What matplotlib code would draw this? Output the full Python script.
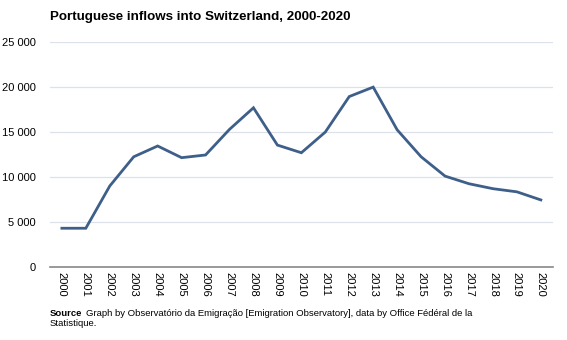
import numpy as np
import matplotlib.pyplot as plt
from matplotlib.ticker import FuncFormatter

years = [str(y) for y in range(2000, 2021)]
inflows = [4300, 4300, 9000, 12250, 13450, 12150, 12450, 15300, 17700, 13550,
           12700, 15000, 18950, 20000, 15250, 12250, 10100, 9250, 8700, 8350, 7450]

plt.rcParams["font.family"] = ["Liberation Sans", "DejaVu Sans"]

fig = plt.figure(figsize=(5.67, 3.4), dpi=100)
ax = fig.add_axes([0.088, 0.215, 0.887, 0.661])

x = np.arange(len(years))
ax.plot(x, inflows, color="#3e5f8a", linewidth=2, solid_joinstyle="miter")

ax.set_xlim(-0.5, len(years) - 0.5)
ax.set_ylim(0, 25000)
ax.set_yticks(np.arange(0, 25001, 5000))
ax.yaxis.set_major_formatter(FuncFormatter(lambda v, p: f"{int(v):,}".replace(",", " ")))
ax.set_xticks(x)
ax.set_xticklabels(years, rotation=270, fontsize=8)
ax.tick_params(axis="y", length=0, labelsize=8, pad=10)
ax.tick_params(axis="x", length=0, pad=4)
ax.grid(axis="y", color="#dde1ea", linewidth=0.9)
ax.set_axisbelow(True)
for s in ["top", "right", "left"]:
    ax.spines[s].set_visible(False)
ax.spines["bottom"].set_color("#888888")
ax.spines["bottom"].set_linewidth(1.2)

fig.text(50 / 567, 1 - 17 / 340, "Portuguese inflows into Switzerland, 2000-2020",
         fontsize=9.6, fontweight="bold", va="center", ha="left")

src = fig.text(50 / 567, 1 - 313 / 340, "Source", fontsize=6.8, fontweight="bold",
               va="center", ha="left")
fig.canvas.draw()
bb = src.get_window_extent(fig.canvas.get_renderer())
fig.text((bb.x1 + 4) / 567, 1 - 313 / 340,
         "Graph by Observatório da Emigração [Emigration Observatory], data by Office Fédéral de la",
         fontsize=6.8, va="center", ha="left")
fig.text(50 / 567, 1 - 324 / 340, "Statistique.", fontsize=6.8, va="center", ha="left")

fig.savefig("out.png", dpi=100)
